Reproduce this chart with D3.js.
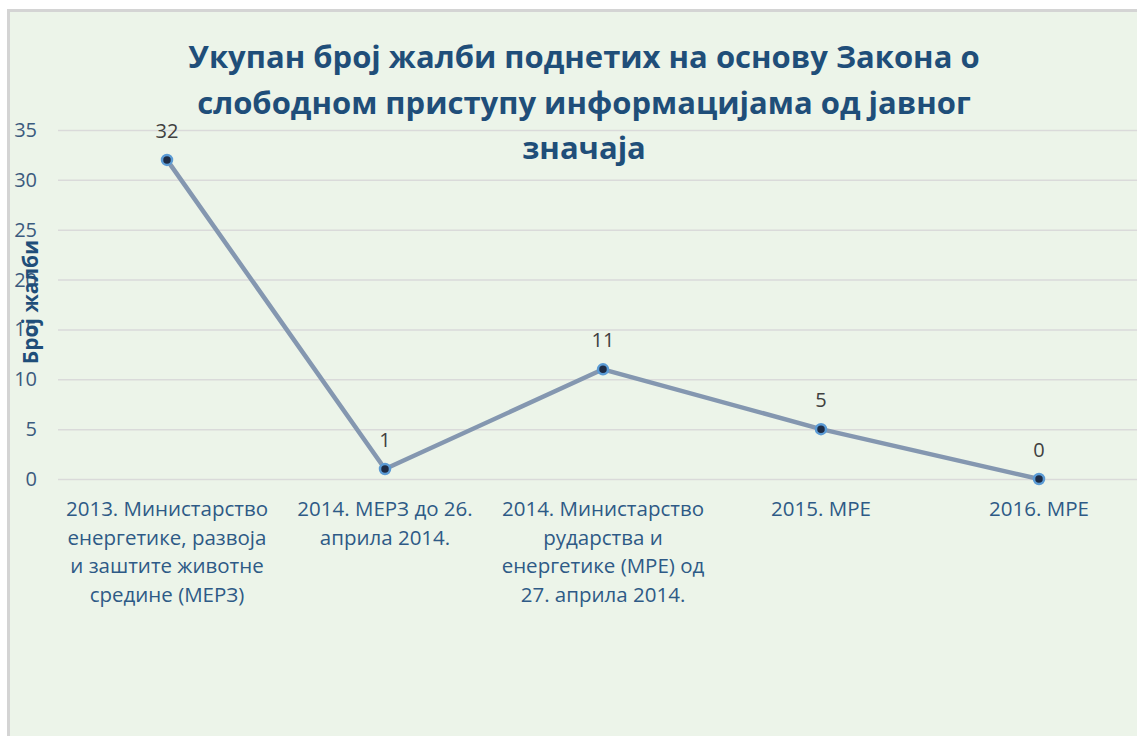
<!DOCTYPE html>
<html>
<head>
<meta charset="utf-8">
<script src="https://cdn.jsdelivr.net/npm/d3@7"></script>
<style>
  body { margin: 0; background: #fff; }
  svg { display: block; }
</style>
</head>
<body>
<div id="chart"></div>
<script>
const categories = [
  ["2013. Министарство", "енергетике, развоја", "и заштите животне", "средине (МЕРЗ)"],
  ["2014. МЕРЗ до 26.", "априла 2014."],
  ["2014. Министарство", "рударства и", "енергетике (МРЕ) од", "27. априла 2014."],
  ["2015. МРЕ"],
  ["2016. МРЕ"]
];
const values = [32, 1, 11, 5, 0];
const yTicks = [0, 5, 10, 15, 20, 25, 30, 35];
const titleLines = [
  "Укупан број жалби поднетих на основу Закона о",
  "слободном приступу информацијама од јавног",
  "значаја"
];
const yTitle = "Број жалби";

const width = 1137;
const height = 736;
const font = "'Open Sans', 'Noto Sans', sans-serif";
const margin = { top: 130, right: -11, bottom: 257, left: 58 };
const graphWidth = width - margin.left - margin.right;
const graphHeight = height - margin.top - margin.bottom;

const svg = d3
  .select("#chart")
  .append("svg")
  .attr("width", width)
  .attr("height", height);

// fondo del gráfico
svg
  .append("rect")
  .attr("x", 8.5)
  .attr("y", 10.5)
  .attr("width", width + 10)
  .attr("height", height + 10)
  .style("fill", "#ecf4e9")
  .style("stroke", "#d4d4d4")
  .style("stroke-width", 3);

const x = d3
  .scaleBand()
  .domain(d3.range(values.length))
  .range([0, graphWidth]);

const y = d3.scaleLinear().domain([0, 35]).range([graphHeight, 0]);

const g = svg
  .append("g")
  .attr("transform", `translate(${margin.left}, ${margin.top})`);

// rejilla
g.selectAll(".grid")
  .data(yTicks)
  .enter()
  .append("line")
  .attr("x1", 0)
  .attr("x2", graphWidth)
  .attr("y1", (d) => y(d) + 0.5)
  .attr("y2", (d) => y(d) + 0.5)
  .style("stroke", "#dadada")
  .style("stroke-width", 1.5);

// etiquetas eje y
g.selectAll(".ytick")
  .data(yTicks)
  .enter()
  .append("text")
  .attr("x", -21)
  .attr("y", (d) => y(d))
  .attr("dy", "0.35em")
  .attr("text-anchor", "end")
  .style("font-family", font)
  .style("font-size", "20px")
  .style("fill", "#3b5a7e")
  .text((d) => d);

// título eje y
svg
  .append("text")
  .attr("transform", "translate(31, 302) rotate(-90)")
  .attr("text-anchor", "middle")
  .attr("dy", "0.35em")
  .style("font-family", font)
  .style("font-weight", "bold")
  .style("font-size", "21px")
  .style("fill", "#1f4e79")
  .text(yTitle);

// etiquetas categorías
const cat = g
  .selectAll(".cat")
  .data(categories)
  .enter()
  .append("text")
  .attr("text-anchor", "middle")
  .style("font-family", font)
  .style("font-size", "20.5px")
  .style("fill", "#2e5a86");

cat
  .selectAll("tspan")
  .data((d, i) => d.map((line) => ({ line, i })))
  .enter()
  .append("tspan")
  .attr("x", (d) => x(d.i) + x.bandwidth() / 2)
  .attr("y", (d, j) => graphHeight + 37 + j * 28.5)
  .text((d) => d.line);

// línea
const line = d3
  .line()
  .x((d, i) => x(i) + x.bandwidth() / 2)
  .y((d) => y(d));

g.append("path")
  .datum(values)
  .attr("d", line)
  .style("fill", "none")
  .style("stroke", "#8497b0")
  .style("stroke-width", 4.5)
  .style("stroke-linejoin", "round");

// marcadores
g.selectAll(".pt")
  .data(values)
  .enter()
  .append("circle")
  .attr("cx", (d, i) => x(i) + x.bandwidth() / 2)
  .attr("cy", (d) => y(d))
  .attr("r", 5)
  .style("fill", "#1e2c45")
  .style("stroke", "#5b9bd5")
  .style("stroke-width", 2.5);

// etiquetas de datos
g.selectAll(".lbl")
  .data(values)
  .enter()
  .append("text")
  .attr("x", (d, i) => x(i) + x.bandwidth() / 2)
  .attr("y", (d) => y(d) - 29)
  .attr("dy", "0.35em")
  .attr("text-anchor", "middle")
  .style("font-family", font)
  .style("font-size", "20px")
  .style("fill", "#404040")
  .text((d) => d);

// título
svg
  .append("text")
  .attr("text-anchor", "middle")
  .style("font-family", font)
  .style("font-weight", "bold")
  .style("font-size", "31px")
  .style("fill", "#1f4e79")
  .selectAll("tspan")
  .data(titleLines)
  .enter()
  .append("tspan")
  .attr("x", 584)
  .attr("y", (d, i) => 68 + i * 45.5)
  .text((d) => d);
</script>
</body>
</html>
